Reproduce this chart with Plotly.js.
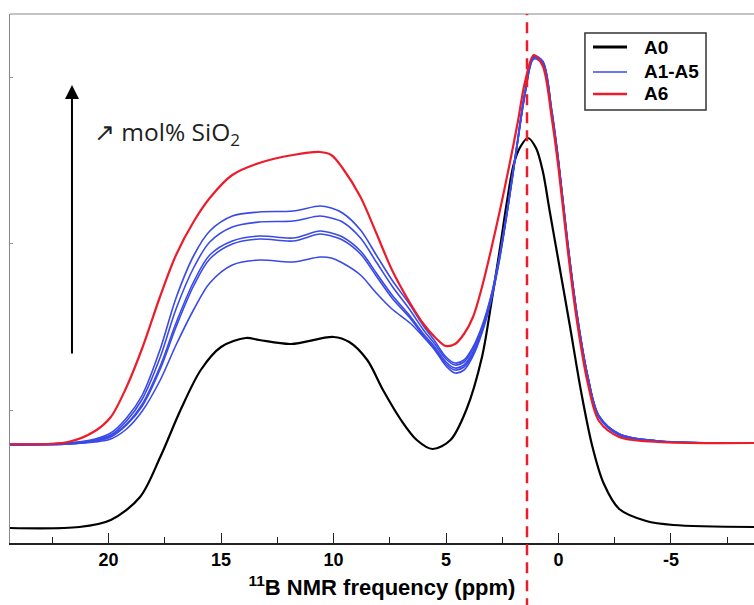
<!DOCTYPE html>
<html>
<head>
<meta charset="utf-8">
<script src="https://cdn.plot.ly/plotly-3.0.1.min.js"></script>
<style>html,body{margin:0;padding:0;background:#fff;}#chart{width:754px;height:605px;}</style>
</head>
<body>
<div id="chart"></div>
<script>
// Chemical shift grid (ppm) shared by the A1–A6 spectra
const ppmGrid = [24.4, 21.8, 20.6, 19.9, 19.2, 18.5, 17.7, 17.0, 16.2, 15.5, 14.5, 13.3, 11.8, 10.6, 10.1, 9.6, 8.8, 8.1, 7.4, 6.6, 6.0, 5.5, 5.0, 4.6, 4.2, 3.8, 3.4, 3.0, 2.6, 2.2, 1.8, 1.5, 1.1, 0.7, 0.3, 0.0, -0.4, -0.8, -1.3, -1.8, -2.7, -4.4, -8.7];

const A6 = [0.99, 1.01, 1.12, 1.26, 1.56, 1.95, 2.47, 2.88, 3.22, 3.45, 3.68, 3.80, 3.88, 3.91, 3.88, 3.75, 3.46, 3.10, 2.73, 2.40, 2.19, 2.06, 1.97, 1.99, 2.09, 2.26, 2.56, 2.93, 3.33, 3.76, 4.22, 4.60, 4.88, 4.77, 4.25, 3.75, 2.95, 2.25, 1.60, 1.22, 1.06, 1.01, 1.00];
const A5 = [0.99, 1.00, 1.04, 1.10, 1.25, 1.48, 1.94, 2.45, 2.88, 3.12, 3.27, 3.31, 3.32, 3.37, 3.35, 3.30, 3.13, 2.88, 2.63, 2.38, 2.17, 2.02, 1.86, 1.80, 1.83, 1.96, 2.17, 2.47, 2.90, 3.45, 4.06, 4.50, 4.87, 4.82, 4.33, 3.83, 3.03, 2.33, 1.67, 1.27, 1.09, 1.02, 1.00];
const A4 = [0.99, 1.00, 1.03, 1.08, 1.22, 1.44, 1.86, 2.34, 2.76, 3.01, 3.16, 3.21, 3.22, 3.27, 3.25, 3.21, 3.05, 2.81, 2.57, 2.33, 2.13, 1.99, 1.84, 1.78, 1.81, 1.94, 2.15, 2.46, 2.89, 3.44, 4.05, 4.49, 4.86, 4.81, 4.32, 3.82, 3.02, 2.32, 1.67, 1.27, 1.09, 1.02, 1.00];
const A3 = [0.98, 0.99, 1.02, 1.07, 1.19, 1.39, 1.77, 2.20, 2.62, 2.88, 3.02, 3.07, 3.05, 3.12, 3.10, 3.06, 2.92, 2.70, 2.48, 2.27, 2.09, 1.96, 1.81, 1.75, 1.78, 1.91, 2.13, 2.44, 2.88, 3.43, 4.04, 4.48, 4.86, 4.81, 4.31, 3.81, 3.01, 2.32, 1.67, 1.27, 1.09, 1.02, 1.00];
const A2 = [0.98, 0.99, 1.02, 1.06, 1.18, 1.37, 1.74, 2.16, 2.58, 2.84, 2.99, 3.04, 3.02, 3.09, 3.07, 3.03, 2.89, 2.67, 2.45, 2.25, 2.07, 1.94, 1.79, 1.73, 1.76, 1.89, 2.12, 2.43, 2.87, 3.43, 4.04, 4.48, 4.85, 4.80, 4.30, 3.81, 3.01, 2.31, 1.66, 1.26, 1.08, 1.02, 1.00];
const A1 = [0.98, 0.99, 1.01, 1.04, 1.14, 1.32, 1.63, 1.98, 2.34, 2.60, 2.78, 2.83, 2.81, 2.86, 2.85, 2.80, 2.68, 2.50, 2.34, 2.20, 2.06, 1.93, 1.77, 1.70, 1.73, 1.87, 2.10, 2.42, 2.86, 3.42, 4.03, 4.47, 4.84, 4.79, 4.29, 3.80, 3.00, 2.31, 1.66, 1.26, 1.08, 1.02, 1.00];

// A0 spectrum
const ppmA0 = [24.4, 21.3, 19.9, 18.6, 17.7, 16.8, 15.9, 15.0, 13.9, 13.3, 11.9, 10.0, 9.3, 8.5, 7.8, 7.0, 6.3, 5.6, 4.8, 4.1, 3.4, 3.0, 2.6, 2.3, 2.0, 1.7, 1.36, 1.0, 0.7, 0.4, 0.0, -0.5, -1.0, -1.5, -2.0, -2.7, -3.9, -5.1, -8.7];
const A0 = [0.15, 0.16, 0.23, 0.46, 0.86, 1.33, 1.73, 1.96, 2.05, 2.03, 1.99, 2.06, 2.01, 1.83, 1.53, 1.23, 1.03, 0.94, 1.03, 1.33, 1.86, 2.38, 2.95, 3.40, 3.78, 3.96, 4.05, 3.95, 3.72, 3.33, 2.82, 2.18, 1.52, 0.97, 0.60, 0.34, 0.22, 0.18, 0.16];

const blueSeries = [A1, A2, A3, A4, A5];
const xTickVals = [20, 15, 10, 5, 0, -5];
const xTickText = ['20', '15', '10', '5', '0', '-5'];
const refShift = 1.4;
const legendNames = ['A0', 'A1-A5', 'A6'];

const BLUE = '#3a4ae6', RED = '#ec1c2a';
const FONT = 'Liberation Sans, Arial, sans-serif';
const legendColors = ['#000', BLUE, RED];
const legendWidths = [3, 1.5, 2.5];

const traces = [];
traces.push({x: ppmA0, y: A0, mode: 'lines', name: 'A0', showlegend: false,
  line: {color: '#000', width: 2.2, shape: 'spline', smoothing: 0.9}});
blueSeries.forEach((s, i) => {
  traces.push({x: ppmGrid, y: s, mode: 'lines', name: 'A' + (i + 1), showlegend: false,
    line: {color: BLUE, width: 1.6, shape: 'spline', smoothing: 0.9}});
});
traces.push({x: ppmGrid, y: A6, mode: 'lines', name: 'A6', showlegend: false,
  line: {color: RED, width: 2.2, shape: 'spline', smoothing: 0.9}});

// legend box (paper coordinates)
const legX0 = 0.7728, legX1 = 0.9355, legY0 = 0.8185, legY1 = 0.9641;
const legRowsY = [0.9376, 0.8904, 0.8488];
const shapes = [
  {type: 'line', xref: 'paper', yref: 'paper', x0: 0, x1: 1, y0: 1, y1: 1,
    line: {color: '#888', width: 1}},
  {type: 'line', xref: 'x', yref: 'paper', x0: refShift, x1: refShift, y0: -0.125, y1: 1,
    line: {color: RED, width: 2.5, dash: '11px,7px'}},
  {type: 'rect', xref: 'paper', yref: 'paper', x0: legX0, x1: legX1, y0: legY0, y1: legY1,
    fillcolor: '#fff', line: {color: '#333', width: 1.5}}
];
const annotations = [
  {xref: 'paper', yref: 'paper', x: 0.0833, y: 0.866, ax: 0, ay: 270,
    axref: 'pixel', ayref: 'pixel', text: '', showarrow: true,
    arrowhead: 2, arrowsize: 1.4, arrowwidth: 2, arrowcolor: '#000'},
  {xref: 'paper', yref: 'paper', x: 0.11, y: 0.775, xanchor: 'left', yanchor: 'middle',
    text: '↗ mol% SiO<sub>2</sub>', showarrow: false,
    font: {family: 'Open Sans, Noto Sans, sans-serif', size: 24.5, color: '#231f20'}}
];
legendNames.forEach((nm, i) => {
  shapes.push({type: 'line', xref: 'paper', yref: 'paper', x0: 0.7836, x1: 0.8293,
    y0: legRowsY[i], y1: legRowsY[i], line: {color: legendColors[i], width: legendWidths[i]}});
  annotations.push({xref: 'paper', yref: 'paper', x: 0.8495, y: legRowsY[i],
    xanchor: 'left', yanchor: 'middle', text: nm, showarrow: false,
    font: {family: FONT, size: 19, color: '#000', weight: 'bold'}});
});

const layout = {
  width: 754, height: 605,
  margin: {l: 10, r: 0, t: 14, b: 62},
  paper_bgcolor: '#fff', plot_bgcolor: '#fff',
  showlegend: false,
  xaxis: {range: [24.38, -8.69], showgrid: false, zeroline: false,
    showline: true, linecolor: '#222', linewidth: 1.5,
    ticks: 'inside', ticklen: 10, tickwidth: 1, tickcolor: '#222',
    tickvals: xTickVals, ticktext: xTickText,
    minor: {dtick: 2.5, ticks: 'inside', ticklen: 6, tickcolor: '#222', tickwidth: 1, showgrid: false},
    tickfont: {family: FONT, size: 18, color: '#000', weight: 'bold'},
    title: {text: '<sup>11</sup>B NMR frequency (ppm)', standoff: 10,
      font: {family: FONT, size: 22, color: '#000', weight: 'bold'}}},
  yaxis: {range: [0, 5.29], showgrid: false, zeroline: false,
    showline: true, linecolor: '#888', linewidth: 1,
    ticks: 'inside', ticklen: 3, tickcolor: '#999', tickvals: [1.33, 3.0, 4.66],
    showticklabels: false},
  shapes: shapes,
  annotations: annotations
};

Plotly.newPlot('chart', traces, layout, {displayModeBar: false, staticPlot: true});
</script>
</body>
</html>
